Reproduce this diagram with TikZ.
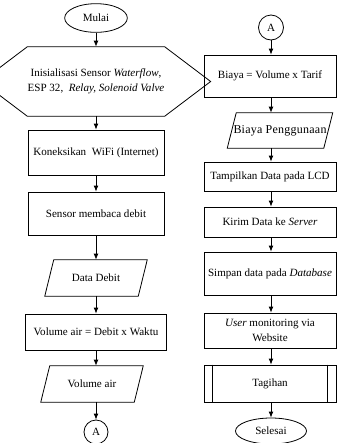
\documentclass[tikz,border=0pt]{standalone}
\usepackage{fontspec}
\setmainfont{Liberation Serif}
\usetikzlibrary{arrows.meta,calc,shapes.geometric}
\begin{document}
\begin{tikzpicture}[x=0.75pt,y=-0.75pt,
  every node/.style={font=\fontsize{8.3}{11}\selectfont, inner sep=0pt, align=center},
  shapeline/.style={draw=black, line width=0.6pt},
  proc/.style={shapeline, rectangle, minimum width=#1},
  ghost/.style={rectangle, minimum width=#1},
  term/.style={shapeline, ellipse},
  conn/.style={shapeline, circle, minimum size=#1},
  arr/.style={draw=black, line width=0.6pt, -{Latex[length=4.5pt,width=3.6pt]}}
]
\useasboundingbox (0,0) rectangle (337,443);

% ---------- left column ----------
\node[term, minimum width=47pt, minimum height=21.5pt] (start) at (96,18) {Mulai};
\node[ghost=64.5pt, minimum height=51.75pt] (hex) at (96,81.5)
  {Inisialisasi Sensor \textit{Waterflow},\\ESP 32,\ \ \textit{Relay, Solenoid Valve}};
\draw[shapeline] (hex.north west) -- (hex.north east) -- ($(hex.east)+(46,0)$)
  -- (hex.south east) -- (hex.south west) -- ($(hex.west)+(-46,0)$) -- cycle;
\node[proc=102pt, minimum height=33.75pt] (wifi) at (96,152.5) {Koneksikan\ \ WiFi (Internet)};
\node[proc=102pt, minimum height=32.25pt] (sensor) at (96,213.5) {Sensor membaca debit};
\node[ghost=69.75pt, minimum height=27pt] (ddebit) at (96,278) {Data Debit};
\draw[shapeline] ($(ddebit.north west)+(4.5,0)$) -- ($(ddebit.north east)+(4.5,0)$)
  -- ($(ddebit.south east)+(-4.5,0)$) -- ($(ddebit.south west)+(-4.5,0)$) -- cycle;
\node[proc=105.75pt, minimum height=27pt] (volcalc) at (96,332) {Volume air = Debit x Waktu};
\node[ghost=69.75pt, minimum height=27pt] (volair) at (92,384) {Volume air};
\draw[shapeline] ($(volair.north west)+(4.5,0)$) -- ($(volair.north east)+(4.5,0)$)
  -- ($(volair.south east)+(-4.5,0)$) -- ($(volair.south west)+(-4.5,0)$) -- cycle;
\node[conn=18pt] (conA) at (96,432) {A};

\draw[arr] (start) -- (hex);
\draw[arr] (hex) -- (wifi);
\draw[arr] (wifi) -- (sensor);
\draw[arr] (sensor) -- (ddebit);
\draw[arr] (ddebit) -- (volcalc);
\draw[arr] (volcalc.south) -- (volcalc.south |- volair.north);
\draw[arr] (conA.north |- volair.south) -- (conA.north);

% ---------- right column ----------
\node[conn=18.75pt] (conB) at (271,27.5) {A};
\node[proc=99pt, minimum height=31.5pt] (biaya) at (270,76) {Biaya = Volume x Tarif};
\node[ghost=72pt, minimum height=26.25pt] (biayap) at (280,130.5)
  {\fontsize{9}{11}\selectfont\addfontfeature{LetterSpace=2}Biaya Penggunaan};
\draw[shapeline] ($(biayap.north west)+(4.5,0)$) -- ($(biayap.north east)+(4.5,0)$)
  -- ($(biayap.south east)+(-4.5,0)$) -- ($(biayap.south west)+(-4.5,0)$) -- cycle;
\node[proc=99pt, minimum height=21.75pt] (lcd) at (270,176.5) {Tampilkan Data pada LCD};
\node[proc=99pt, minimum height=22.5pt] (kirim) at (270,222) {Kirim Data ke \textit{Server}};
\node[proc=99pt, minimum height=32.25pt] (simpan) at (270,273.5) {Simpan data pada \textit{Database}};
\node[proc=99pt, minimum height=26.25pt] (user) at (270,330.5) {\textit{User} monitoring via\\Website};
\node[proc=99pt, minimum height=27.75pt] (tagihan) at (270,383.5) {Tagihan};
\draw[shapeline] ($(tagihan.north west)+(9,0)$) -- ($(tagihan.south west)+(9,0)$);
\draw[shapeline] ($(tagihan.north east)+(-9,0)$) -- ($(tagihan.south east)+(-9,0)$);
\node[term, minimum width=53.25pt, minimum height=19.5pt] (stop) at (271,431) {Selesai};

\draw[arr] (conB.south) -- (conB.south |- biaya.north);
\draw[arr] (conB.south |- biaya.south) -- (conB.south |- biayap.north);
\draw[arr] (conB.south |- biayap.south) -- (conB.south |- lcd.north);
\draw[arr] (conB.south |- lcd.south) -- (conB.south |- kirim.north);
\draw[arr] (conB.south |- kirim.south) -- (conB.south |- simpan.north);
\draw[arr] (conB.south |- simpan.south) -- (conB.south |- user.north);
\draw[arr] (conB.south |- user.south) -- (conB.south |- tagihan.north);
\draw[arr] (conB.south |- tagihan.south) -- (stop.north);
\end{tikzpicture}
\end{document}
